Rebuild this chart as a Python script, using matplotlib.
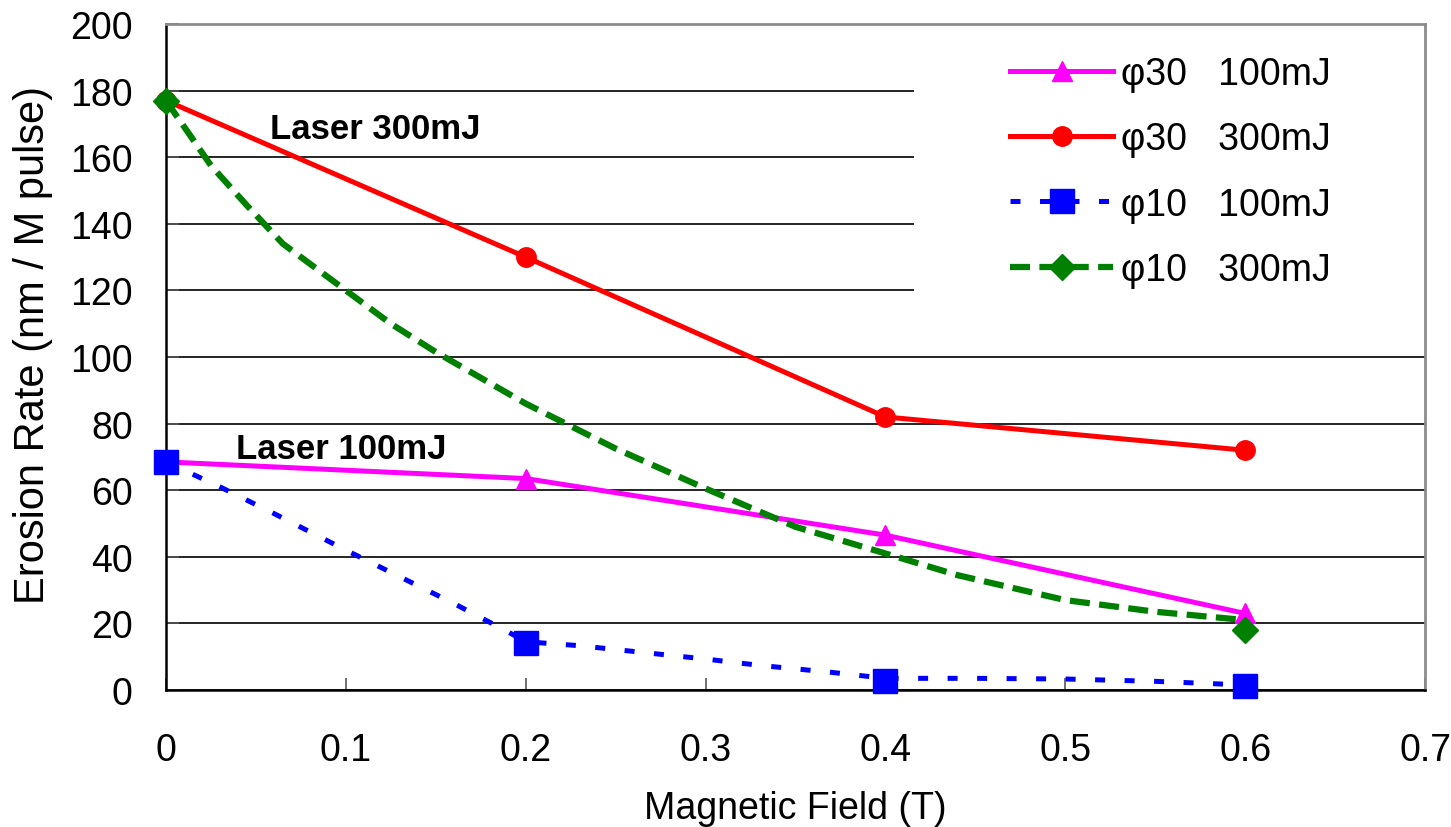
import matplotlib
matplotlib.use("Agg")
import matplotlib.pyplot as plt
from matplotlib.patches import Rectangle
import numpy as np

plt.rcParams['font.family'] = ['Liberation Sans', 'DejaVu Sans']

# phi30 series (straight lines with markers)
field = [0, 0.2, 0.4, 0.6]
phi30_100 = [68.5, 63.5, 46.5, 23]
phi30_300 = [177, 130, 82, 72]

phi10_100_x = [0, 0.03, 0.06, 0.1, 0.13, 0.16, 0.19, 0.2, 0.23, 0.27, 0.3, 0.33, 0.37, 0.4, 0.45, 0.5, 0.55, 0.6]
phi10_100_y = [68.5, 61, 53, 42, 34, 26, 17.5, 14.5, 13.3, 11, 9.3, 7.4, 5.3, 3.5, 3.5, 3.3, 2.6, 1.5]
phi10_100_pts = [68.5, 14.2, 2.8, 1.3]

# phi10 300mJ: curve + measured end points
phi10_300_x = [0, 0.025, 0.045, 0.065, 0.1, 0.125, 0.15, 0.2, 0.25, 0.3, 0.35, 0.4, 0.44, 0.5, 0.55, 0.6]
phi10_300_y = [177, 157.5, 145.5, 134, 120, 110, 101.5, 86, 72.5, 60.5, 49, 41, 34.5, 27, 23.5, 21]
phi10_300_px = [0, 0.6]
phi10_300_pts = [177, 18]

xticks = [0, 0.1, 0.2, 0.3, 0.4, 0.5, 0.6, 0.7]
xtick_labels = ["0", "0.1", "0.2", "0.3", "0.4", "0.5", "0.6", "0.7"]
yticks = list(range(0, 201, 20))

fig = plt.figure(figsize=(14.51, 8.28), dpi=100)
ax = fig.add_axes([166/1451, 1 - 691/828, (1425 - 166)/1451, (691 - 25)/828])

fs = 27

l1, = ax.plot(field, phi30_100, color="#FF00FF", lw=3.6, marker="^", ms=15, zorder=3, clip_on=False)
l2, = ax.plot(field, phi30_300, color="#FF0000", lw=3.6, marker="o", ms=14, zorder=3, clip_on=False)
l3, = ax.plot(phi10_100_x, phi10_100_y, color="#0000FF", lw=3.6, dashes=(2, 3.9), zorder=3)
m3, = ax.plot(field, phi10_100_pts, color="#0000FF", ls="none", marker="s", ms=17, zorder=3, clip_on=False)
l4, = ax.plot(phi10_300_x, phi10_300_y, color="#008000", lw=4.5, dashes=(3.2, 1.5), zorder=3)
m4, = ax.plot(phi10_300_px, phi10_300_pts, color="#008000", ls="none", marker="D", ms=13, zorder=3, clip_on=False)

ax.set_xlim(0, 0.7)
ax.set_ylim(0, 200)
ax.set_xticks(xticks)
ax.set_xticklabels(xtick_labels)
ax.set_yticks(yticks)
ax.tick_params(direction="in", length=9, width=1.2, color="#555555", labelsize=fs)
ax.tick_params(axis="x", pad=30)
ax.tick_params(axis="y", pad=24)
ax.yaxis.grid(True, color="black", lw=1.2)

for s in ["left", "bottom"]:
    ax.spines[s].set_color("black")
    ax.spines[s].set_linewidth(1.8)
for s in ["top", "right"]:
    ax.spines[s].set_color("#8c8c8c")
    ax.spines[s].set_linewidth(2)

ax.set_xlabel("Magnetic Field (T)", fontsize=fs, labelpad=16)
ax.set_ylabel("Erosion Rate (nm / M pulse)", fontsize=30, labelpad=12, y=0.52)

ax.text(0.058, 168.5, "Laser 300mJ", fontsize=25, fontweight="bold", va="center")
ax.text(0.039, 72.5, "Laser 100mJ", fontsize=25, fontweight="bold", va="center")

# white area behind the legend hides the gridlines
ax.add_patch(Rectangle((0.594, 0.591), 0.406, 0.409, transform=ax.transAxes,
                       facecolor="white", edgecolor="none", zorder=2))

ax.legend([l1, l2, (l3, m3), (l4, m4)],
          ["φ30   100mJ", "φ30   300mJ", "φ10   100mJ", "φ10   300mJ"],
          loc="upper left", bbox_to_anchor=(1010/1451, 1 - 57/828),
          bbox_transform=fig.transFigure, frameon=False, fontsize=fs,
          handlelength=2.75, handletextpad=0.2, labelspacing=0.78,
          borderpad=0, borderaxespad=0)

plt.savefig("out.png", dpi=100)
